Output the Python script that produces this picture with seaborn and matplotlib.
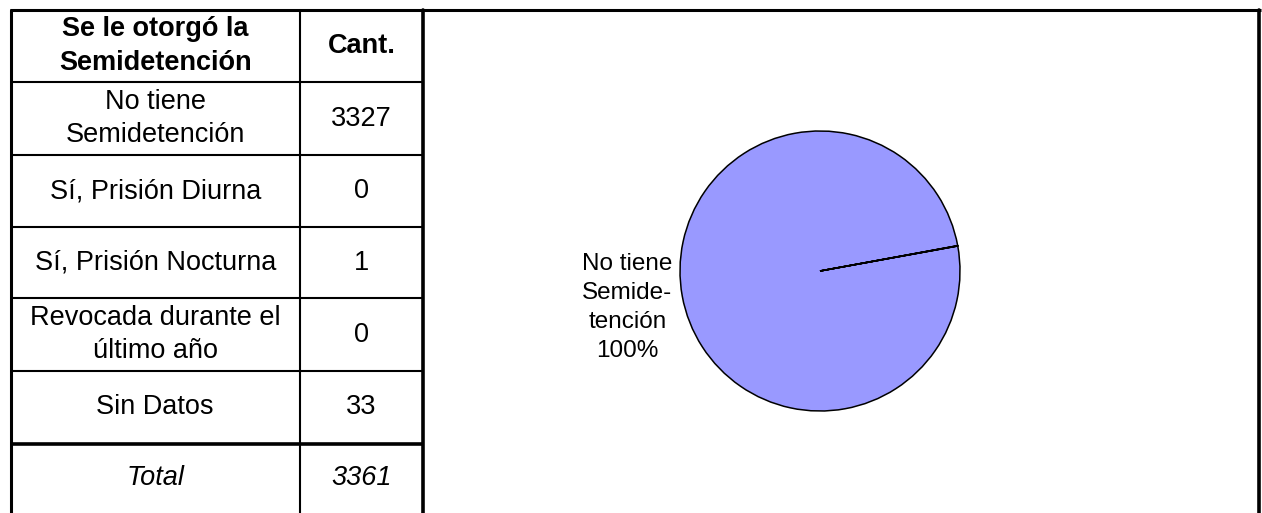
import matplotlib
matplotlib.use("Agg")
import matplotlib.pyplot as plt
import seaborn as sns

# table data
categorias = ["No tiene\nSemidetención", "Sí, Prisión Diurna", "Sí, Prisión Nocturna",
              "Revocada durante el\núltimo año", "Sin Datos"]
cantidades = [3327, 0, 1, 0, 33]
total = 3361
encabezado = ["Se le otorgó la\nSemidetención", "Cant."]

# pie uses the categories with data (without "Sin Datos")
pie_valores = cantidades[:4]
pie_etiquetas = ["No tiene\nSemide-\ntención\n100%", "", "", ""]

sns.set_style("white")
plt.rcParams["font.family"] = ["Liberation Sans", "DejaVu Sans"]
plt.rcParams["text.color"] = "black"

W, H = 1262, 513
fig = plt.figure(figsize=(W / 100, H / 100), dpi=100)

# background axes in pixel units for the table and frame
bg = fig.add_axes([0, 0, 1, 1])
bg.set_xlim(0, W)
bg.set_ylim(H, 0)
bg.axis("off")

x_left, x_mid, x_tab, x_right = 10.5, 300, 423, 1259
y_top = 10
row_edges = [y_top, 82, 155, 227, 298, 371, 443.5, H]

thin, thick = 1.5, 2.6
# frame
bg.plot([x_left - 1, x_right + 1.5], [y_top, y_top], color="black", lw=2.2, solid_capstyle="butt")
bg.plot([x_left, x_left], [y_top, H], color="black", lw=2.2)
bg.plot([x_mid, x_mid], [y_top, H], color="black", lw=thin)
bg.plot([x_tab, x_tab], [y_top, H], color="black", lw=thick)
bg.plot([x_right, x_right], [y_top, H], color="black", lw=thick)
for i, y in enumerate(row_edges[1:-1]):
    lw = thick if i == len(row_edges) - 3 else thin
    bg.plot([x_left, x_tab], [y, y], color="black", lw=lw, solid_capstyle="butt")

fs = 19.5
ls = 1.38
cx1 = (x_left + x_mid) / 2
cx2 = (x_mid + x_tab) / 2

def centro(i):
    return (row_edges[i] + row_edges[i + 1]) / 2

bg.text(cx1, centro(0), encabezado[0], ha="center", va="center", fontsize=fs,
        fontweight="bold", linespacing=ls)
bg.text(cx2, centro(0), encabezado[1], ha="center", va="center", fontsize=fs,
        fontweight="bold")
for i, (cat, val) in enumerate(zip(categorias, cantidades)):
    bg.text(cx1, centro(i + 1), cat, ha="center", va="center", fontsize=fs, linespacing=ls)
    bg.text(cx2, centro(i + 1), str(val), ha="center", va="center", fontsize=fs)
bg.text(cx1, centro(6), "Total", ha="center", va="center", fontsize=fs, style="italic")
bg.text(cx2, centro(6), str(total), ha="center", va="center", fontsize=fs, style="italic")

# pie chart
pcx, pcy, r = 820, 271, 140
ax = fig.add_axes([(pcx - r) / W, (H - pcy - r) / H, 2 * r / W, 2 * r / H])
wedges, textos = ax.pie(pie_valores, labels=pie_etiquetas, colors=["#9999FF"] * 4,
                        startangle=10.3, counterclock=False, labeldistance=1.07,
                        wedgeprops=dict(edgecolor="black", linewidth=1.1),
                        textprops=dict(fontsize=17.5, multialignment="center",
                                       linespacing=1.42))
# nudge the label down a bit, like the original
textos[0].set_position((textos[0].get_position()[0], -0.26))
ax.set_xlim(-1, 1)
ax.set_ylim(-1, 1)
ax.set_aspect("equal")
ax.axis("off")

fig.savefig("out.png", dpi=100)
